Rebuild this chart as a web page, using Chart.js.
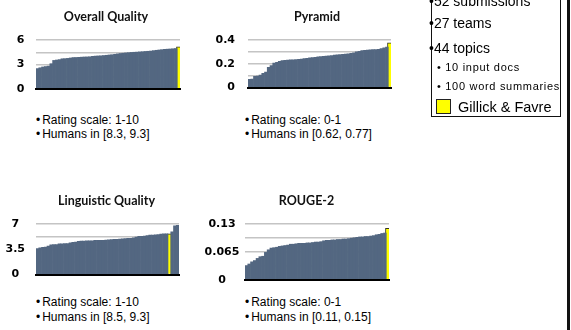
<!DOCTYPE html>
<html>
<head>
<meta charset="utf-8">
<script src="https://cdn.jsdelivr.net/npm/chart.js@4.4.1/dist/chart.umd.min.js"></script>
<style>
  html, body { margin: 0; padding: 0; background: #fff; }
  body { position: relative; width: 571px; height: 330px; overflow: hidden; }
  .panel { position: absolute; }
  .note {
    position: absolute;
    font: 12px 'Liberation Sans', Arial, sans-serif;
    line-height: 14px;
    color: #000;
    white-space: nowrap;
  }
  .note span { margin-left: 2px; }
  .facts {
    position: absolute;
    left: 431px;
    top: -20px;
    width: 128px;
    height: 136px;
    border: 1.5px solid #111;
    border-top: none;
  }
  .fact {
    position: absolute;
    font: 14px 'Liberation Sans', Arial, sans-serif;
    line-height: 16px;
    color: #000;
    white-space: nowrap;
  }
  .fact.small { font-size: 11px; line-height: 13px; letter-spacing: 0.7px; }
  .swatch {
    position: absolute;
    left: 436px;
    top: 99px;
    width: 13px;
    height: 13px;
    background: #ffff00;
    border: 1.5px solid #222;
  }
  .edge {
    position: absolute;
    left: 567px;
    top: 0;
    width: 2.5px;
    height: 330px;
    background: #111;
  }
</style>
</head>
<body>

<div class="panel" style="left:0px;top:0px;width:212px;height:106px"><canvas id="overallChart"></canvas></div>
<div class="panel" style="left:205px;top:0px;width:224px;height:106px"><canvas id="pyramidChart"></canvas></div>
<div class="panel" style="left:0px;top:184px;width:213px;height:107px"><canvas id="linguisticChart"></canvas></div>
<div class="panel" style="left:198px;top:184px;width:217px;height:107px"><canvas id="rougeChart"></canvas></div>

<div class="note" style="left:36px;top:113px">•<span>Rating scale: 1-10</span></div>
<div class="note" style="left:36px;top:127px">•<span>Humans in [8.3, 9.3]</span></div>
<div class="note" style="left:245px;top:113px">•<span>Rating scale: 0-1</span></div>
<div class="note" style="left:245px;top:127px">•<span>Humans in [0.62, 0.77]</span></div>
<div class="note" style="left:36px;top:295px">•<span>Rating scale: 1-10</span></div>
<div class="note" style="left:36px;top:310px">•<span>Humans in [8.5, 9.3]</span></div>
<div class="note" style="left:245px;top:295px">•<span>Rating scale: 0-1</span></div>
<div class="note" style="left:245px;top:310px">•<span>Humans in [0.11, 0.15]</span></div>

<div class="facts"></div>
<div class="fact" style="left:429px;top:-7px">•52 submissions</div>
<div class="fact" style="left:429px;top:15px">•27 teams</div>
<div class="fact" style="left:429px;top:40px">•44 topics</div>
<div class="fact small" style="left:437px;top:61px">• 10 input docs</div>
<div class="fact small" style="left:437px;top:80px">• 100 word summaries</div>
<div class="swatch"></div>
<div class="fact" style="left:458px;top:99px;font-size:14.5px">Gillick &amp; Favre</div>
<div class="edge"></div>

<script>
const submissionRanks = [
  '1', '2', '3', '4', '5', '6', '7', '8', '9', '10', '11', '12', '13',
  '14', '15', '16', '17', '18', '19', '20', '21', '22', '23', '24', '25', '26',
  '27', '28', '29', '30', '31', '32', '33', '34', '35', '36', '37', '38', '39',
  '40', '41', '42', '43', '44', '45', '46', '47', '48', '49', '50', '51', '52'
];

const overallQuality = [
  2.50, 2.60, 2.70, 2.75, 2.80, 3.10, 3.50, 3.55, 3.60, 3.70, 3.72, 3.75, 3.80,
  3.85, 3.86, 3.88, 3.90, 3.92, 3.93, 3.95, 4.00, 4.03, 4.05, 4.07, 4.10, 4.13,
  4.17, 4.20, 4.25, 4.30, 4.35, 4.38, 4.42, 4.45, 4.48, 4.50, 4.52, 4.55, 4.57,
  4.60, 4.62, 4.65, 4.70, 4.74, 4.78, 4.82, 4.86, 4.88, 4.90, 4.93, 4.96, 5.16
];

const pyramidScores = [
  0.068, 0.070, 0.095, 0.097, 0.105, 0.120, 0.130, 0.170, 0.185, 0.205, 0.213, 0.220, 0.226,
  0.228, 0.230, 0.232, 0.234, 0.236, 0.238, 0.240, 0.243, 0.246, 0.250, 0.253, 0.255, 0.258,
  0.260, 0.262, 0.265, 0.267, 0.269, 0.272, 0.275, 0.277, 0.279, 0.281, 0.283, 0.287, 0.292,
  0.300, 0.305, 0.311, 0.313, 0.315, 0.317, 0.319, 0.320, 0.322, 0.328, 0.334, 0.340, 0.377
];

const linguisticQuality = [
  3.58, 3.70, 3.75, 3.80, 3.94, 4.10, 4.14, 4.16, 4.24, 4.26, 4.27, 4.30, 4.38,
  4.45, 4.50, 4.60, 4.63, 4.64, 4.65, 4.66, 4.67, 4.72, 4.73, 4.74, 4.75, 4.76,
  4.80, 4.85, 4.86, 4.88, 4.92, 4.96, 4.98, 5.00, 5.02, 5.09, 5.20, 5.29, 5.30,
  5.32, 5.40, 5.45, 5.47, 5.50, 5.55, 5.60, 5.64, 5.65, 5.65, 5.92, 6.75, 6.80
];

const rouge2Scores = [
  0.033, 0.037, 0.042, 0.045, 0.050, 0.054, 0.055, 0.064, 0.070, 0.074, 0.075, 0.076, 0.078,
  0.079, 0.080, 0.081, 0.083, 0.083, 0.084, 0.085, 0.085, 0.085, 0.086, 0.086, 0.087, 0.088,
  0.088, 0.089, 0.091, 0.092, 0.092, 0.093, 0.093, 0.094, 0.094, 0.095, 0.095, 0.096, 0.097,
  0.098, 0.099, 0.100, 0.100, 0.101, 0.101, 0.102, 0.103, 0.105, 0.106, 0.108, 0.109, 0.120
];

// position of Gillick & Favre in each sorted list
const overallHighlight = 51;
const pyramidHighlight = 51;
const linguisticHighlight = 48;
const rougeHighlight = 51;

const overallTicks = ['0', '', '3', '', '6'];
const pyramidTicks = ['0', '', '0.2', '', '0.4'];
const linguisticTicks = ['0', '', '3.5', '', '7'];
const rougeTicks = ['0', '', '0.065', '', '0.13'];

const overallMax = 6;
const pyramidMax = 0.4;
const linguisticMax = 7;
const rougeMax = 0.13;

const SLATE = '#536781';
const HIGHLIGHT = '#ffff00';

function makePanel(selector, opts) {
  const canvas = document.querySelector(selector);

  return new Chart(canvas, {
    type: 'bar',
    data: {
      labels: submissionRanks,
      datasets: [
        {
          label: 'Submissions',
          data: opts.scores.map((v, i) => (i === opts.highlight ? null : v)),
          backgroundColor: SLATE,
          borderWidth: 0,
          barPercentage: 1,
          categoryPercentage: 1,
          grouped: false
        },
        {
          label: 'Gillick & Favre',
          data: opts.scores.map((v, i) => (i === opts.highlight ? v : null)),
          backgroundColor: HIGHLIGHT,
          borderColor: '#33331f',
          borderWidth: 1,
          barThickness: 4.3,
          grouped: false
        }
      ]
    },
    options: {
      responsive: true,
      maintainAspectRatio: false,
      devicePixelRatio: 1,
      animation: false,
      layout: {
        padding: { left: 0, right: 0, top: 0, bottom: 8.5 }
      },
      plugins: {
        legend: { display: false },
        tooltip: { enabled: false },
        title: {
          display: true,
          text: opts.title,
          color: '#111',
          font: { family: 'Lato', size: 12.5, weight: 'bold' },
          padding: { top: 9.5, bottom: 15.5 }
        }
      },
      scales: {
        x: {
          display: true,
          ticks: { display: false },
          grid: { display: false, drawTicks: false },
          border: { display: true, color: '#000', width: 2, z: 1 },
          afterFit: (scale) => { scale.height = 0; }
        },
        y: {
          min: 0,
          max: opts.max,
          ticks: {
            stepSize: opts.max / 4,
            autoSkip: false,
            padding: opts.tickPad,
            crossAlign: opts.align,
            color: '#000',
            font: { family: 'DejaVu Sans', size: 11, weight: 'bold', lineHeight: 1 },
            callback: (value, index) => opts.ticks[index]
          },
          grid: { color: '#c4c4c4', lineWidth: 1.5, drawTicks: false },
          border: { display: false },
          afterFit: (scale) => { scale.width = opts.axisWidth; }
        },
        // empty right-hand gutter so the title sits where the original has it
        gutter: {
          type: 'linear',
          position: 'right',
          display: true,
          ticks: { display: false },
          grid: { display: false, drawTicks: false },
          border: { display: false },
          afterFit: (scale) => { scale.width = opts.gutter; }
        }
      }
    }
  });
}

makePanel('#overallChart', {
  title: 'Overall Quality',
  scores: overallQuality,
  highlight: overallHighlight,
  max: overallMax,
  ticks: overallTicks,
  axisWidth: 36,
  gutter: 32,
  tickPad: 11.5,
  align: 'near'
});

makePanel('#pyramidChart', {
  title: 'Pyramid',
  scores: pyramidScores,
  highlight: pyramidHighlight,
  max: pyramidMax,
  ticks: pyramidTicks,
  axisWidth: 43,
  gutter: 38,
  tickPad: 13,
  align: 'near'
});

makePanel('#linguisticChart', {
  title: 'Linguistic Quality',
  scores: linguisticQuality,
  highlight: linguisticHighlight,
  max: linguisticMax,
  ticks: linguisticTicks,
  axisWidth: 36,
  gutter: 34,
  tickPad: 11,
  align: 'center'
});

makePanel('#rougeChart', {
  title: 'ROUGE-2',
  scores: rouge2Scores,
  highlight: rougeHighlight,
  max: rougeMax,
  ticks: rougeTicks,
  axisWidth: 47,
  gutter: 26,
  tickPad: 5.6,
  align: 'center'
});
</script>
</body>
</html>
